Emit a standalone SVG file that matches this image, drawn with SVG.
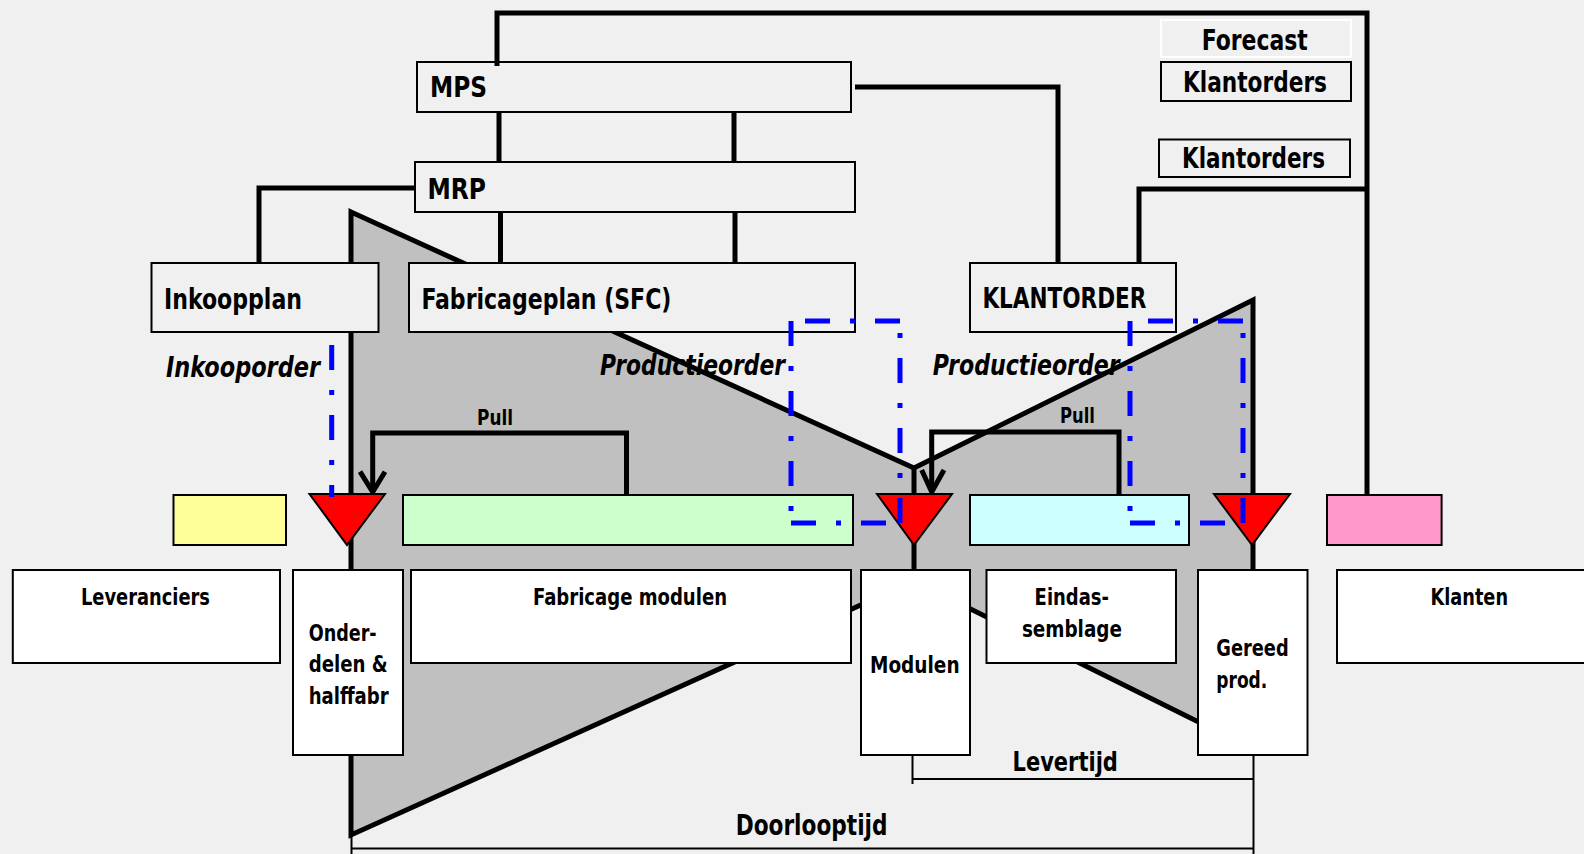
<svg xmlns="http://www.w3.org/2000/svg" width="1584" height="854" viewBox="0 0 1584 854">
<style>
.bg{fill:#f0f0f0}
.box{fill:#f0f0f0;stroke:#000;stroke-width:2}
.wbox{fill:#fff;stroke:#000;stroke-width:2}
.thick{fill:none;stroke:#000;stroke-width:5;stroke-linejoin:miter;stroke-linecap:butt}
.thin{fill:none;stroke:#000;stroke-width:2}
.blue{fill:none;stroke:#0000ff;stroke-width:5;stroke-dasharray:25 20 5 20}
.tri{fill:#ff0000;stroke:#000;stroke-width:2}
.t{font-family:"Liberation Sans Narrow","DejaVu Sans Condensed","Liberation Sans",sans-serif;font-weight:bold;fill:#000}
.L{font-size:29px}
.M{font-size:23px}
.S{font-size:21px}
.i{font-style:italic;font-size:28px}
</style>
<rect class="bg" x="0" y="0" width="1584" height="854"/>

<g id="funnel">
<polygon points="351,212 914,468 1253,300 1253,749 914,581 351,835" fill="#c0c0c0" stroke="none"/>
</g>

<g id="order-labels">
<text class="t i" x="166" y="376.7" textLength="154" lengthAdjust="spacingAndGlyphs">Inkooporder</text>
<text class="t i" x="600" y="375" textLength="185" lengthAdjust="spacingAndGlyphs">Productieorder</text>
<text class="t i" x="932.7" y="375" textLength="187" lengthAdjust="spacingAndGlyphs">Productieorder</text>
</g>

<g id="funnel-outline">
<polygon points="351,212 914,468 1253,300 1253,749 914,581 351,835" fill="none" stroke="#000" stroke-width="5" stroke-linejoin="miter"/>
</g>

<g id="mps"><rect class="box" x="417" y="62" width="434" height="50"/><text class="t L" x="430" y="97" textLength="57" lengthAdjust="spacingAndGlyphs">MPS</text></g>
<g id="mrp"><rect class="box" x="415" y="162" width="440" height="50"/><text class="t L" x="427.5" y="199" textLength="58.5" lengthAdjust="spacingAndGlyphs">MRP</text></g>
<g id="inkoopplan"><rect class="box" x="151.5" y="263" width="227" height="69"/><text class="t L" x="164" y="309" textLength="138" lengthAdjust="spacingAndGlyphs">Inkoopplan</text></g>
<g id="fabricageplan"><rect class="box" x="409" y="263" width="446" height="69"/><text class="t L" x="421.4" y="309" textLength="250" lengthAdjust="spacingAndGlyphs">Fabricageplan (SFC)</text></g>
<g id="klantorder"><rect class="box" x="970" y="263" width="206" height="69"/><text class="t L" x="982.4" y="308" textLength="164" lengthAdjust="spacingAndGlyphs">KLANTORDER</text></g>
<g id="forecast"><rect x="1161" y="20" width="190" height="37" fill="#f0f0f0" stroke="#fff" stroke-width="2"/><text class="t L" x="1201.7" y="50" textLength="106" lengthAdjust="spacingAndGlyphs">Forecast</text></g>
<g id="klantorders1"><rect class="box" x="1161" y="62" width="190" height="39"/><text class="t L" x="1183" y="91.7" textLength="144" lengthAdjust="spacingAndGlyphs">Klantorders</text></g>
<g id="klantorders2"><rect class="box" x="1159" y="139.5" width="191" height="37.5"/><text class="t L" x="1182" y="168" textLength="143" lengthAdjust="spacingAndGlyphs">Klantorders</text></g>

<g id="stock-yellow"><rect x="173.5" y="495" width="112.5" height="50" fill="#ffff99" stroke="#000" stroke-width="2"/></g>
<g id="stock-green"><rect x="403" y="495" width="450" height="50" fill="#ccffcc" stroke="#000" stroke-width="2"/></g>
<g id="stock-cyan"><rect x="970" y="495" width="219" height="50" fill="#ccffff" stroke="#000" stroke-width="2"/></g>
<g id="stock-pink"><rect x="1327" y="495" width="114.6" height="50" fill="#ff99cc" stroke="#000" stroke-width="2"/></g>

<g id="leveranciers"><rect class="wbox" x="12.8" y="570" width="267.2" height="93"/><text class="t M" x="81" y="605" textLength="129" lengthAdjust="spacingAndGlyphs">Leveranciers</text></g>
<g id="onderdelen"><rect class="wbox" x="293" y="570" width="110" height="185"/>
<text class="t M" x="308.7" y="640.7" textLength="68" lengthAdjust="spacingAndGlyphs">Onder-</text>
<text class="t M" x="308.7" y="672" textLength="79" lengthAdjust="spacingAndGlyphs">delen &amp;</text>
<text class="t M" x="308.7" y="704" textLength="80" lengthAdjust="spacingAndGlyphs">halffabr</text></g>
<g id="fabricage-modulen"><rect class="wbox" x="411" y="570" width="440" height="93"/><text class="t M" x="533" y="605" textLength="194" lengthAdjust="spacingAndGlyphs">Fabricage modulen</text></g>
<g id="modulen"><rect class="wbox" x="861" y="570" width="109" height="185"/><text class="t M" x="870" y="673" textLength="89.6" lengthAdjust="spacingAndGlyphs">Modulen</text></g>
<g id="eindassemblage"><rect class="wbox" x="986.5" y="570" width="189.5" height="93"/>
<text class="t M" x="1034.6" y="605" textLength="74.4" lengthAdjust="spacingAndGlyphs">Eindas-</text>
<text class="t M" x="1021.9" y="637" textLength="100" lengthAdjust="spacingAndGlyphs">semblage</text></g>
<g id="gereed"><rect class="wbox" x="1198" y="570" width="109.5" height="185"/>
<text class="t M" x="1216.3" y="656" textLength="72.4" lengthAdjust="spacingAndGlyphs">Gereed</text>
<text class="t M" x="1216.3" y="688" textLength="51" lengthAdjust="spacingAndGlyphs">prod.</text></g>
<g id="klanten"><rect class="wbox" x="1337" y="570" width="270" height="93"/><text class="t M" x="1430.5" y="605" textLength="77.5" lengthAdjust="spacingAndGlyphs">Klanten</text></g>

<g id="connectors">
<path class="thick" d="M497,66 L497,13 L1367,13 L1367,495"/>
<path class="thick" d="M855,87 L1058,87 L1058,263"/>
<path class="thick" d="M1139,263 L1139,189 L1367,189"/>
<path class="thick" d="M499,112 L499,162 M734,112 L734,162"/>
<path class="thick" d="M500.5,212 L500.5,263 M735,212 L735,263"/>
<path class="thick" d="M415,188 L259,188 L259,263"/>
<path class="thick" d="M914,468 L914,570"/>
<path class="thick" d="M626.5,495 L626.5,433 L372.7,433 L372.7,492"/>
<path class="thick" d="M360,471.7 L372.7,492 L385,471.7"/>
<path class="thick" d="M1119,495 L1119,432 L931.7,432 L931.7,492"/>
<path class="thick" d="M921.7,470 L931.7,492 L944,470"/>
<path class="thin" d="M912.5,755 L912.5,784 M912.5,779 L1253.5,779 M1253.5,755 L1253.5,854"/>
<path class="thin" d="M351.5,835 L351.5,854 M351.5,848.5 L1253.5,848.5"/>
<text class="t S" x="477" y="425" textLength="36" lengthAdjust="spacingAndGlyphs">Pull</text>
<text class="t S" x="1060" y="423.3" textLength="35" lengthAdjust="spacingAndGlyphs">Pull</text>
<text class="t" x="1012.5" y="770.7" font-size="27" textLength="105.4" lengthAdjust="spacingAndGlyphs">Levertijd</text>
<text class="t" x="735.7" y="835" font-size="28" textLength="151.8" lengthAdjust="spacingAndGlyphs">Doorlooptijd</text>
</g>

<g id="decoupling-points">
<polygon class="tri" points="309.5,494 385,494 347,545"/>
<polygon class="tri" points="877,494 952,494 914,545"/>
<polygon class="tri" points="1214,494 1290,494 1252,545"/>
</g>

<g id="order-flows">
<line class="blue" x1="331.7" y1="345" x2="331.7" y2="497"/>
<line class="blue" x1="791" y1="321" x2="791" y2="523"/>
<line class="blue" x1="791" y1="523" x2="900" y2="523"/>
<line class="blue" x1="900" y1="523" x2="900" y2="321"/>
<line class="blue" x1="900" y1="321" x2="791" y2="321"/>
<line class="blue" x1="1130" y1="321" x2="1130" y2="523"/>
<line class="blue" x1="1130" y1="523" x2="1243" y2="523"/>
<line class="blue" x1="1243" y1="523" x2="1243" y2="321"/>
<line class="blue" x1="1243" y1="321" x2="1130" y2="321"/>
</g>
</svg>
